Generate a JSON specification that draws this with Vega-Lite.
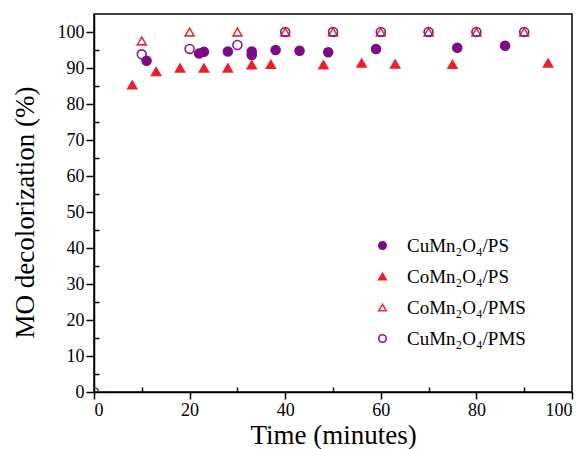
{
  "$schema": "https://vega.github.io/schema/vega-lite/v6.json",
  "width": 478,
  "height": 378,
  "autosize": {"type": "none"},
  "padding": {"left": 94, "top": 14, "right": 16, "bottom": 57},
  "background": "white",
  "config": {
    "view": {"stroke": "black", "strokeWidth": 1.5},
    "font": "Liberation Serif",
    "axis": {"labelFont": "Liberation Serif", "titleFont": "Liberation Serif", "labelColor": "black", "titleColor": "black"},
    "legend": {"orient": "none", "legendX": 279, "legendY": 222, "padding": 0, "labelFontSize": 19, "labelFont": "Liberation Serif", "labelColor": "black",
      "symbolSize": 55, "symbolStrokeWidth": 1.6, "rowPadding": 11, "labelOffset": 15}
  },
  "data": {"values": [
    {"series": "CuMn₂O₄/PS", "t": 11, "v": 92.0},
    {"series": "CuMn₂O₄/PS", "t": 22, "v": 94.0},
    {"series": "CuMn₂O₄/PS", "t": 23, "v": 94.5},
    {"series": "CuMn₂O₄/PS", "t": 28, "v": 94.6},
    {"series": "CuMn₂O₄/PS", "t": 33, "v": 94.6},
    {"series": "CuMn₂O₄/PS", "t": 33, "v": 93.6},
    {"series": "CuMn₂O₄/PS", "t": 38, "v": 95.0},
    {"series": "CuMn₂O₄/PS", "t": 43, "v": 94.8},
    {"series": "CuMn₂O₄/PS", "t": 49, "v": 94.4},
    {"series": "CuMn₂O₄/PS", "t": 59, "v": 95.3},
    {"series": "CuMn₂O₄/PS", "t": 76, "v": 95.6},
    {"series": "CuMn₂O₄/PS", "t": 86, "v": 96.2},
    {"series": "CoMn₂O₄/PS", "t": 8, "v": 85.3},
    {"series": "CoMn₂O₄/PS", "t": 13, "v": 89.0},
    {"series": "CoMn₂O₄/PS", "t": 18, "v": 90.0},
    {"series": "CoMn₂O₄/PS", "t": 23, "v": 90.0},
    {"series": "CoMn₂O₄/PS", "t": 28, "v": 90.0},
    {"series": "CoMn₂O₄/PS", "t": 33, "v": 90.9},
    {"series": "CoMn₂O₄/PS", "t": 37, "v": 91.0},
    {"series": "CoMn₂O₄/PS", "t": 48, "v": 90.9},
    {"series": "CoMn₂O₄/PS", "t": 56, "v": 91.4},
    {"series": "CoMn₂O₄/PS", "t": 63, "v": 91.1},
    {"series": "CoMn₂O₄/PS", "t": 75, "v": 91.0},
    {"series": "CoMn₂O₄/PS", "t": 95, "v": 91.4},
    {"series": "CoMn₂O₄/PMS", "t": 10, "v": 97.5},
    {"series": "CoMn₂O₄/PMS", "t": 20, "v": 100},
    {"series": "CoMn₂O₄/PMS", "t": 30, "v": 100},
    {"series": "CoMn₂O₄/PMS", "t": 40, "v": 100},
    {"series": "CoMn₂O₄/PMS", "t": 50, "v": 100},
    {"series": "CoMn₂O₄/PMS", "t": 60, "v": 100},
    {"series": "CoMn₂O₄/PMS", "t": 70, "v": 100},
    {"series": "CoMn₂O₄/PMS", "t": 80, "v": 100},
    {"series": "CoMn₂O₄/PMS", "t": 90, "v": 100},
    {"series": "CuMn₂O₄/PMS", "t": 0, "v": 0},
    {"series": "CuMn₂O₄/PMS", "t": 10, "v": 93.8},
    {"series": "CuMn₂O₄/PMS", "t": 20, "v": 95.3},
    {"series": "CuMn₂O₄/PMS", "t": 30, "v": 96.4},
    {"series": "CuMn₂O₄/PMS", "t": 40, "v": 100},
    {"series": "CuMn₂O₄/PMS", "t": 50, "v": 100},
    {"series": "CuMn₂O₄/PMS", "t": 60, "v": 100},
    {"series": "CuMn₂O₄/PMS", "t": 70, "v": 100},
    {"series": "CuMn₂O₄/PMS", "t": 80, "v": 100},
    {"series": "CuMn₂O₄/PMS", "t": 90, "v": 100}
  ]},
  "mark": {"type": "point", "strokeWidth": 1.6, "opacity": 1, "clip": true, "size": 80},
  "encoding": {
    "x": {"field": "t", "type": "quantitative", "scale": {"domain": [0, 100], "nice": false, "zero": false},
      "axis": {"orient": "bottom", "values": [0, 10, 20, 30, 40, 50, 60, 70, 80, 90, 100], "grid": false,
        "tickSize": {"expr": "datum.value % 20 === 0 ? 7 : -5"}, "tickWidth": 1.5, "tickColor": "black",
        "domainColor": "black", "domainWidth": 1.5, "labelFontSize": 18, "labelPadding": 2, "labelFont": "Liberation Serif", "labelOverlap": false,
        "labelExpr": "datum.value % 20 === 0 ? datum.label : ''",
        "title": "Time (minutes)", "titleFontSize": 27, "titleFontWeight": "normal", "titlePadding": 3, "titleFont": "Liberation Serif"}},
    "y": {"field": "v", "type": "quantitative", "scale": {"domain": [0, 105], "nice": false},
      "axis": {"orient": "left", "values": [0, 5, 10, 15, 20, 25, 30, 35, 40, 45, 50, 55, 60, 65, 70, 75, 80, 85, 90, 95, 100], "grid": false,
        "tickSize": {"expr": "datum.value % 10 === 0 ? 8 : -5"}, "tickWidth": 1.5, "tickColor": "black",
        "domainColor": "black", "domainWidth": 1.5, "labelFontSize": 18, "labelPadding": 2, "labelFont": "Liberation Serif", "labelOverlap": false,
        "labelExpr": "datum.value % 10 === 0 ? datum.label : ''",
        "title": "MO decolorization (%)", "titleFontSize": 27, "titleFontWeight": "normal", "titlePadding": 18, "titleY": 198, "titleFont": "Liberation Serif"}},
    "shape": {"field": "series", "type": "nominal", "title": null,
      "scale": {"domain": ["CuMn₂O₄/PS", "CoMn₂O₄/PS", "CoMn₂O₄/PMS", "CuMn₂O₄/PMS"], "range": ["circle", "triangle-up", "triangle-up", "circle"]}},
    "fill": {"field": "series", "type": "nominal", "title": null,
      "scale": {"domain": ["CuMn₂O₄/PS", "CoMn₂O₄/PS", "CoMn₂O₄/PMS", "CuMn₂O₄/PMS"], "range": ["#7d0a86", "#e8202c", "transparent", "transparent"]}},
    "stroke": {"field": "series", "type": "nominal", "title": null,
      "scale": {"domain": ["CuMn₂O₄/PS", "CoMn₂O₄/PS", "CoMn₂O₄/PMS", "CuMn₂O₄/PMS"], "range": ["#7d0a86", "#e8202c", "#e0303e", "#7d1a8c"]}}
  }
}
